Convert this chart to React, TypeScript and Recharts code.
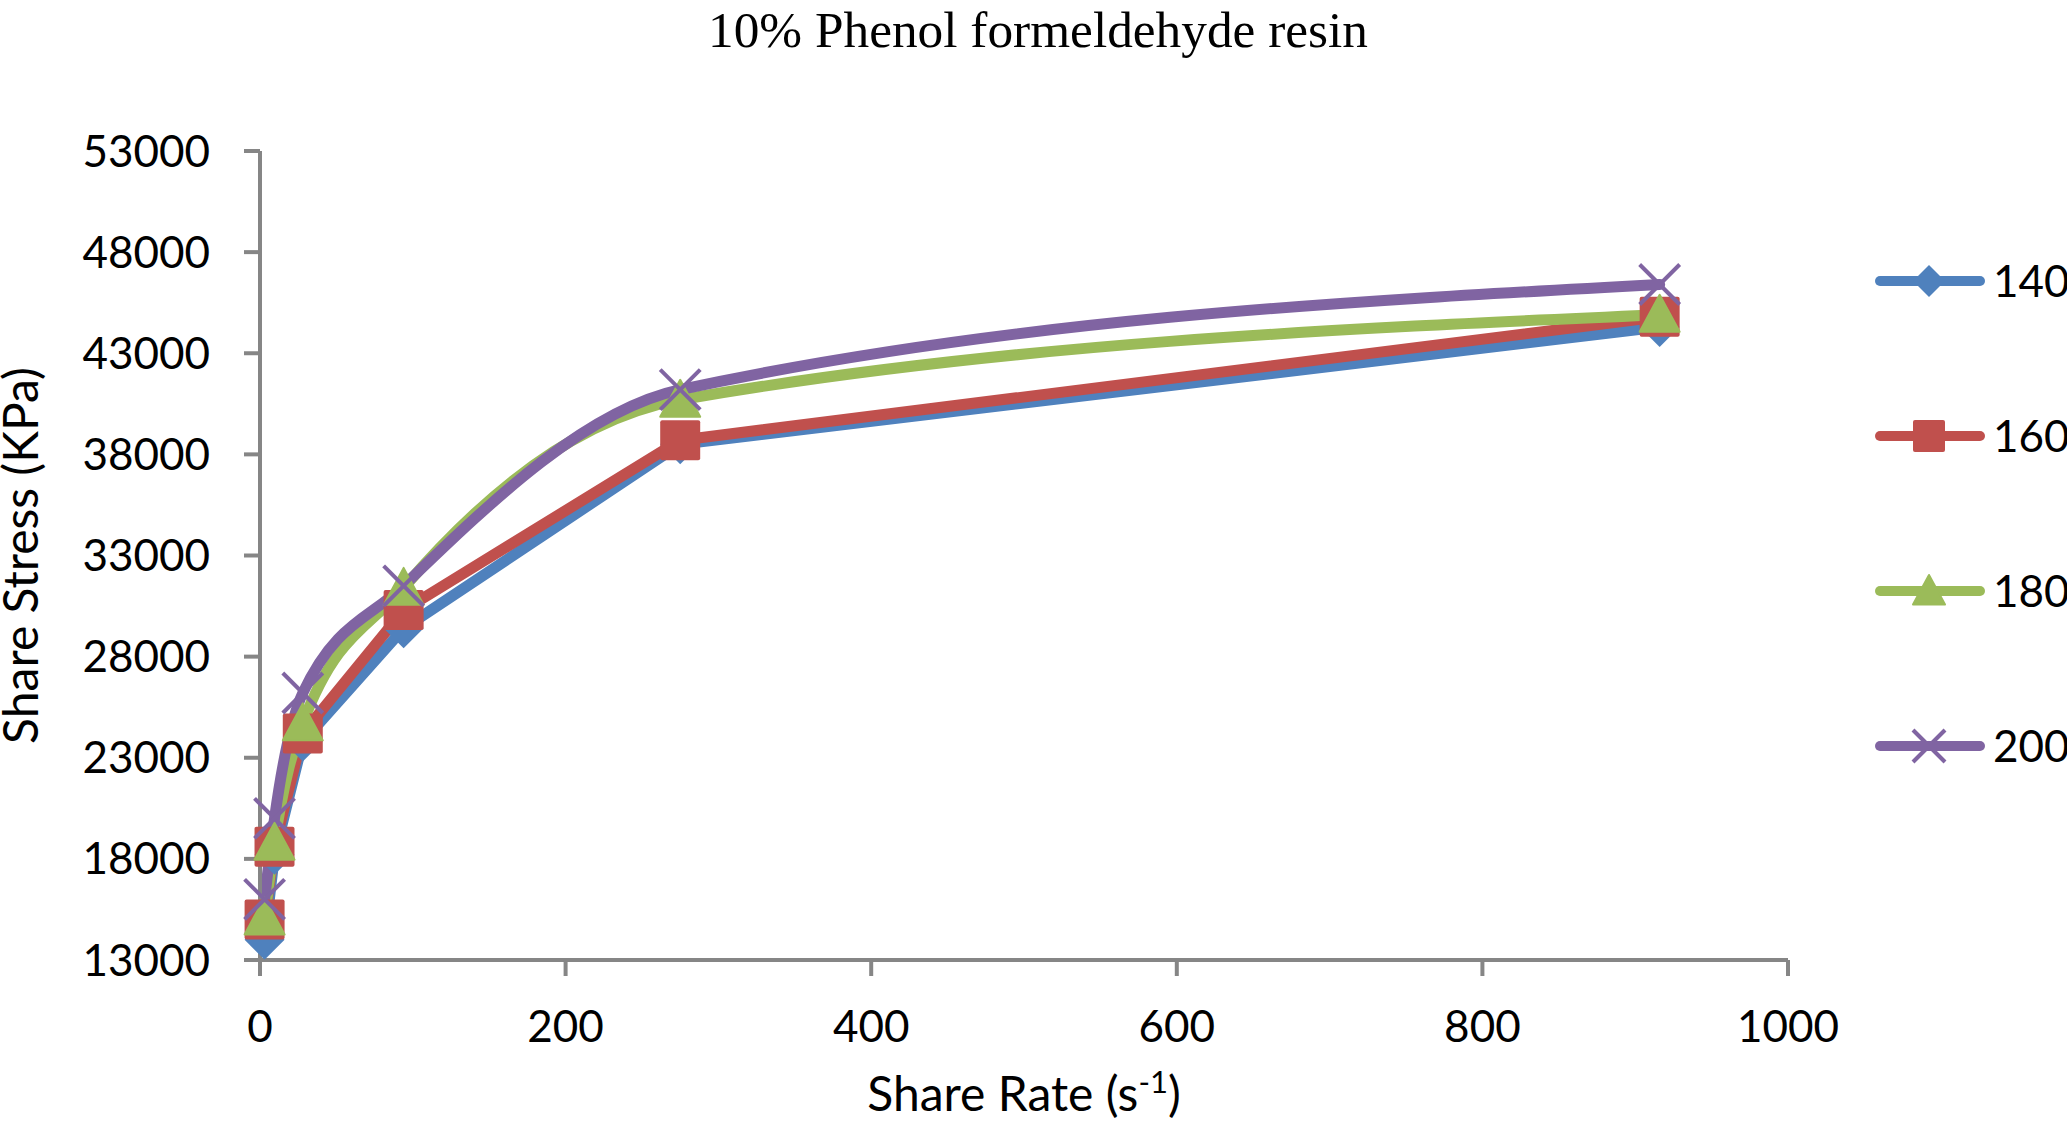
import React from "react";
import { LineChart, Line, XAxis, YAxis, Label } from "recharts";

// shear rate (s^-1) for each measurement
const shearRates = [3, 9.5, 28, 94, 275, 916];
// shear stress (KPa) per temperature
const stress140 = [14000, 18200, 23800, 29400, 38500, 44300];
const stress160 = [15000, 18600, 24200, 30300, 38700, 44800];
const stress180 = [15100, 18800, 24700, 31400, 40700, 44900];
const stress200 = [16000, 20000, 26200, 31500, 41200, 46400];

const xTicks = [0, 200, 400, 600, 800, 1000];
const yTicks = [13000, 18000, 23000, 28000, 33000, 38000, 43000, 48000, 53000];

const seriesNames = ["140", "160", "180", "200"];

const data = shearRates.map((x, i) => ({
  x,
  s140: stress140[i],
  s160: stress160[i],
  s180: stress180[i],
  s200: stress200[i],
}));

const AXIS = "#868686";
const FONT = "Lato, 'Open Sans', sans-serif";

type Kind = "diamond" | "square" | "triangle" | "cross";

const series: { key: string; name: string; color: string; kind: Kind; curve: "linear" | "monotone" }[] = [
  { key: "s140", name: seriesNames[0], color: "#4F81BD", kind: "diamond", curve: "linear" },
  { key: "s160", name: seriesNames[1], color: "#C0504D", kind: "square", curve: "linear" },
  { key: "s180", name: seriesNames[2], color: "#9BBB59", kind: "triangle", curve: "monotone" },
  { key: "s200", name: seriesNames[3], color: "#8064A2", kind: "cross", curve: "monotone" },
];

function Marker({ kind, cx, cy, color, r }: { kind: Kind; cx: number; cy: number; color: string; r: number }) {
  if (kind === "diamond") {
    return <polygon points={`${cx},${cy - r} ${cx + r},${cy} ${cx},${cy + r} ${cx - r},${cy}`} fill={color} />;
  }
  if (kind === "square") {
    return <rect x={cx - r} y={cy - r} width={2 * r} height={2 * r} rx={2} fill={color} />;
  }
  if (kind === "triangle") {
    return (
      <polygon
        points={`${cx},${cy - r} ${cx + r},${cy + r * 0.85} ${cx - r},${cy + r * 0.85}`}
        fill={color}
        stroke={color}
        strokeWidth={2}
        strokeLinejoin="round"
      />
    );
  }
  return (
    <g stroke={color} strokeWidth={4}>
      <line x1={cx - r} y1={cy - r} x2={cx + r} y2={cy + r} />
      <line x1={cx - r} y1={cy + r} x2={cx + r} y2={cy - r} />
    </g>
  );
}

const dotRenderer = (kind: Kind, color: string) => (props: any) => {
  const { cx, cy, index } = props;
  if (cx == null || cy == null) return <g key={`${kind}-${index}`} />;
  return (
    <g key={`${kind}-${index}`}>
      <Marker kind={kind} cx={cx} cy={cy} color={color} r={20} />
    </g>
  );
};

const tickStyle = { fontFamily: FONT, fontSize: 44, fill: "#000" };

export default function App() {
  return (
    <div style={{ position: "absolute", left: 0, top: 0, width: 2067, height: 1126, background: "#fff" }}>
      <LineChart
        width={2067}
        height={1126}
        data={data}
        margin={{ top: 151, right: 279, bottom: 66, left: 20 }}
      >
        <XAxis
          dataKey="x"
          type="number"
          domain={[0, 1000]}
          ticks={xTicks}
          height={100}
          tickSize={16}
          tickMargin={35}
          tick={tickStyle}
          axisLine={{ stroke: AXIS, strokeWidth: 4 }}
          tickLine={{ stroke: AXIS, strokeWidth: 4 }}
        >
          <Label
            content={(p: any) => {
              const vb = p.viewBox;
              return (
                <text
                  x={vb.x + vb.width / 2}
                  y={vb.y + 151}
                  textAnchor="middle"
                  fontFamily={FONT}
                  fontSize={48}
                  fill="#000"
                >
                  Share Rate (s
                  <tspan fontSize={31} dy={-18}>-1</tspan>
                  <tspan dy={18}>)</tspan>
                </text>
              );
            }}
          />
        </XAxis>
        <YAxis
          type="number"
          domain={[13000, 53000]}
          ticks={yTicks}
          width={240}
          tickSize={16}
          tickMargin={34}
          tick={tickStyle}
          axisLine={{ stroke: AXIS, strokeWidth: 4 }}
          tickLine={{ stroke: AXIS, strokeWidth: 4 }}
        >
          <Label
            content={(p: any) => {
              const vb = p.viewBox;
              const cx = vb.x + 18;
              const cy = vb.y + vb.height / 2;
              return (
                <text
                  x={cx}
                  y={cy}
                  transform={`rotate(-90 ${cx} ${cy})`}
                  textAnchor="middle"
                  fontFamily={FONT}
                  fontSize={48}
                  fill="#000"
                >
                  Share Stress (KPa)
                </text>
              );
            }}
          />
        </YAxis>
        {series.map((s) => (
          <Line
            key={s.key}
            dataKey={s.key}
            name={s.name}
            type={s.curve}
            stroke={s.color}
            strokeWidth={11}
            strokeLinejoin="round"
            strokeLinecap="round"
            dot={dotRenderer(s.kind, s.color)}
            activeDot={false}
            isAnimationActive={false}
          />
        ))}
      </LineChart>
      <svg
        width={2067}
        height={1126}
        style={{ position: "absolute", left: 0, top: 0, pointerEvents: "none" }}
      >
        <text
          x={1038}
          y={47}
          textAnchor="middle"
          fontFamily="'Liberation Serif', 'Times New Roman', serif"
          fontSize={50}
          textLength={660}
          lengthAdjust="spacingAndGlyphs"
          fill="#000"
        >
          10% Phenol formeldehyde resin
        </text>
        {series.map((s, i) => {
          const y = 281 + i * 155;
          return (
            <g key={s.key}>
              <line x1={1880} y1={y} x2={1980} y2={y} stroke={s.color} strokeWidth={10} strokeLinecap="round" />
              <Marker kind={s.kind} cx={1929} cy={y} color={s.color} r={16} />
              <text x={1993} y={y + 16} fontFamily={FONT} fontSize={44} fill="#000">
                {s.name}
              </text>
            </g>
          );
        })}
      </svg>
    </div>
  );
}
